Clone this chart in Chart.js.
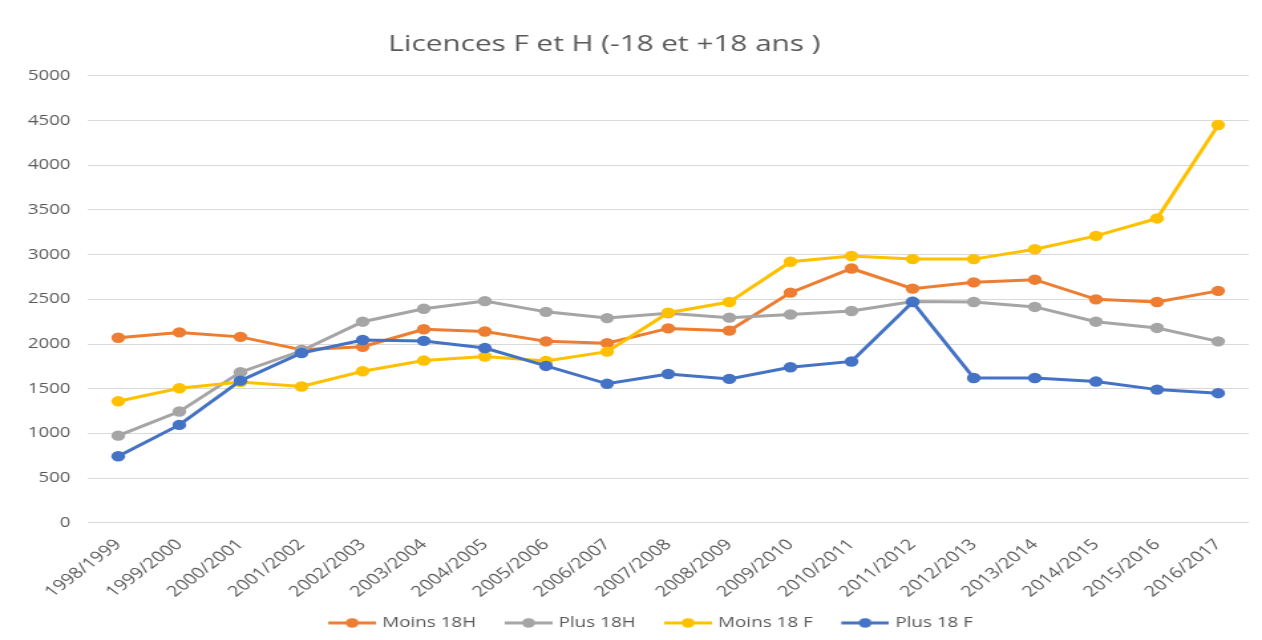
<!DOCTYPE html>
<html>
<head>
<meta charset="utf-8">
<script src="https://cdn.jsdelivr.net/npm/chart.js@4/dist/chart.umd.min.js"></script>
<style>
html,body{margin:0;padding:0;background:#fff;}
#wrap{position:relative;width:1262px;height:640px;overflow:hidden;}
</style>
</head>
<body>
<div id="wrap"><canvas id="c" width="950" height="640" style="width:1262px;height:640px;display:block;"></canvas></div>
<script>
const categories = ["1998/1999","1999/2000","2000/2001","2001/2002","2002/2003","2003/2004","2004/2005","2005/2006","2006/2007","2007/2008","2008/2009","2009/2010","2010/2011","2011/2012","2012/2013","2013/2014","2014/2015","2015/2016","2016/2017"];
const moins18H = [2070,2130,2080,1935,1970,2165,2140,2030,2010,2175,2150,2575,2845,2620,2690,2720,2500,2470,2595];
const plus18H  = [975,1245,1685,1925,2250,2395,2480,2360,2290,2345,2295,2330,2370,2475,2470,2415,2250,2180,2030];
const moins18F = [1360,1505,1575,1525,1695,1815,1860,1810,1915,2350,2470,2920,2985,2950,2950,3060,3210,3405,4450];
const plus18F  = [745,1095,1590,1900,2045,2035,1955,1755,1555,1665,1610,1740,1805,2470,1620,1620,1580,1490,1450];
const seriesNames = ["Moins 18H","Plus 18H","Moins 18 F","Plus 18 F"];
const colors = ["#ED7D31","#A5A5A5","#FFC000","#4472C4"];

function legendIcon(color){
  const cv = document.createElement('canvas');
  cv.width = 50; cv.height = 14;
  const g = cv.getContext('2d');
  g.strokeStyle = color; g.lineWidth = 3;
  g.beginPath(); g.moveTo(14,7); g.lineTo(50,7); g.stroke();
  g.fillStyle = color;
  g.beginPath(); g.arc(32,7,4.8,0,Math.PI*2); g.fill();
  return cv;
}

const allSeries = [moins18H, plus18H, moins18F, plus18F];
const datasets = allSeries.map((d,i)=>({
  label: seriesNames[i],
  data: d,
  borderColor: colors[i],
  backgroundColor: colors[i],
  borderWidth: 3,
  pointRadius: 5.2,
  pointHoverRadius: 5.2,
  pointBorderWidth: 0,
  tension: 0,
  order: 3 - i
}));

Chart.defaults.font.family = "'Open Sans', 'Noto Sans', sans-serif";
Chart.defaults.color = "#595959";

const shiftBoxes = {
  id: 'shiftBoxes',
  afterLayout(chart){
    if (chart.titleBlock){ chart.titleBlock.left -= 23; chart.titleBlock.right -= 23; }
    if (chart.legend){ chart.legend.left += 6; chart.legend.right += 6; }
  }
};

new Chart(document.getElementById('c'), {
  type: 'line',
  data: { labels: categories, datasets: datasets },
  plugins: [shiftBoxes],
  options: {
    responsive: false,
    animation: false,
    devicePixelRatio: 1,
    layout: { padding: { left: 16, right: 10, top: 31, bottom: 0 } },
    plugins: {
      title: {
        display: true,
        text: "Licences F et H (-18 et +18 ans )",
        color: "#595959",
        font: { size: 22.4, weight: 'normal' },
        padding: { top: 0, bottom: 18 }
      },
      legend: {
        position: 'bottom',
        labels: {
          usePointStyle: true,
          pointStyleWidth: 45,
          color: "#595959",
          font: { size: 14.2 },
          boxHeight: 14,
          padding: 10,
          generateLabels: (chart) => chart.data.datasets.map((ds,i)=>({
            text: ds.label,
            fillStyle: ds.borderColor,
            strokeStyle: ds.borderColor,
            pointStyle: legendIcon(ds.borderColor),
            datasetIndex: i,
            hidden: false,
            lineWidth: 0,
            fontColor: "#595959"
          }))
        }
      },
      tooltip: { enabled: false }
    },
    scales: {
      x: {
        offset: true,
        grid: { display: false },
        border: { display: false },
        afterFit: (s) => { s.height = 83; },
        ticks: { autoSkip: false, maxRotation: 45, minRotation: 45, color: "#595959", font: { size: 15 }, padding: 5 }
      },
      y: {
        min: 0, max: 5000,
        afterFit: (s) => { s.width = 50; },
        ticks: { stepSize: 500, color: "#595959", font: { size: 14 }, padding: 13, callback: (v) => String(v) },
        grid: { color: "#D9D9D9", lineWidth: 1, drawTicks: false },
        border: { display: false }
      }
    }
  }
});
</script>
</body>
</html>
